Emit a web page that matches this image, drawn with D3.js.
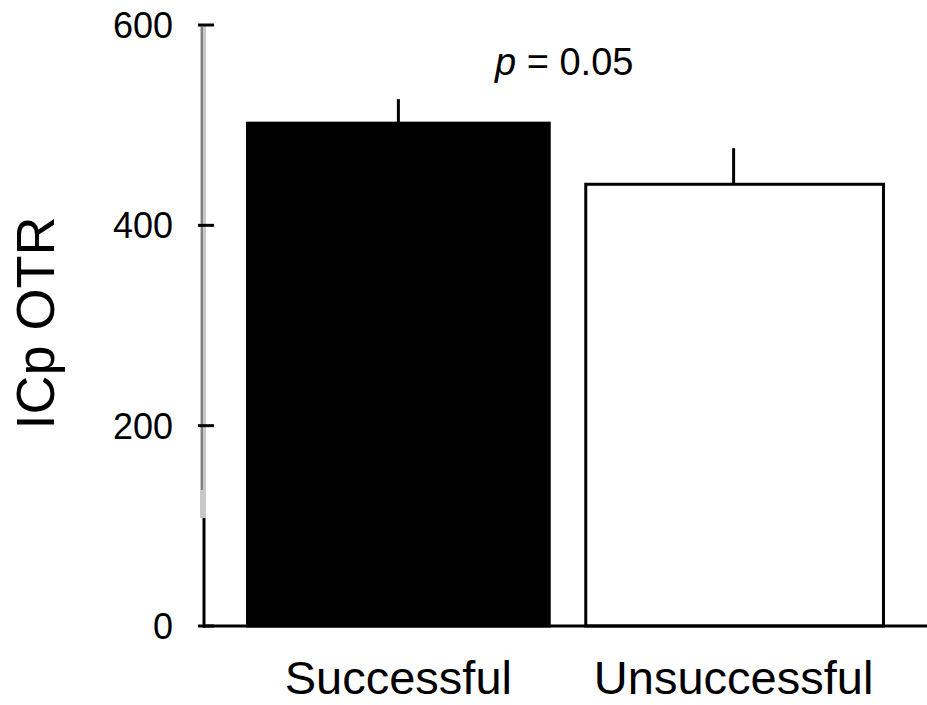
<!DOCTYPE html>
<html><head><meta charset="utf-8">
<script src="https://cdn.jsdelivr.net/npm/d3@7"></script>
<style>body{margin:0;background:#fff}svg{display:block}</style>
</head><body>
<script>
const categories = ["Successful", "Unsuccessful"];
const means = [502, 441];
const errTops = [526, 477];
const fills = ["#000000", "#ffffff"];
const yTicks = [0, 200, 400, 600];
const yLabel = "ICp OTR";
const note = "= 0.05";

const W = 927, H = 705;
const svg = d3.select("body").append("svg").attr("width", W).attr("height", H);
const font = "Liberation Sans, Arial, sans-serif";

const y = d3.scaleLinear().domain([0, 600]).range([626, 25]);
const x = d3.scaleBand().domain(categories).range([214, 918]).paddingInner(0.1).paddingOuter(0.1);

// bars
svg.selectAll("rect.bar").data(categories).join("rect")
  .attr("x", (d, i) => x(d) + (i === 1 ? 3 : 0))
  .attr("y", (d, i) => y(means[i]))
  .attr("width", (d, i) => x.bandwidth() - (i === 1 ? 4 : 0))
  .attr("height", (d, i) => y(0) - y(means[i]))
  .attr("fill", (d, i) => fills[i])
  .attr("stroke", "#000").attr("stroke-width", 3);

// error bars
svg.selectAll("line.err").data(categories).join("line")
  .attr("x1", d => x(d) + x.bandwidth() / 2)
  .attr("x2", d => x(d) + x.bandwidth() / 2)
  .attr("y1", (d, i) => y(means[i]))
  .attr("y2", (d, i) => y(errTops[i]))
  .attr("stroke", "#000").attr("stroke-width", 3);

// y axis line (gray upper part, black lower part)
svg.append("line").attr("x1", 203).attr("x2", 203).attr("y1", y(600)).attr("y2", 518)
  .attr("stroke", "#c8c8c8").attr("stroke-width", 6);
svg.append("line").attr("x1", 202).attr("x2", 202).attr("y1", y(600)+2).attr("y2", 490)
  .attr("stroke", "#808080").attr("stroke-width", 2);
svg.append("line").attr("x1", 204).attr("x2", 204).attr("y1", 518).attr("y2", y(0) + 1.5)
  .attr("stroke", "#000").attr("stroke-width", 3);

// x axis line
svg.append("line").attr("x1", 203).attr("x2", W).attr("y1", y(0)).attr("y2", y(0))
  .attr("stroke", "#000").attr("stroke-width", 3);

// ticks
svg.selectAll("line.tick").data(yTicks).join("line")
  .attr("x1", 198).attr("x2", 214)
  .attr("y1", d => y(d)).attr("y2", d => y(d))
  .attr("stroke", "#000").attr("stroke-width", 3);
svg.selectAll("text.tl").data(yTicks).join("text")
  .attr("x", 173).attr("y", d => y(d)).attr("dy", "0.36em")
  .attr("text-anchor", "end").attr("font-family", font).attr("font-size", 36)
  .text(d => d);

// category labels
svg.selectAll("text.cat").data(categories).join("text")
  .attr("x", d => x(d) + x.bandwidth() / 2).attr("y", 694)
  .attr("text-anchor", "middle").attr("font-family", font).attr("font-size", 47)
  .text(d => d);

// y label
svg.append("text").attr("transform", "translate(54,323) rotate(-90)")
  .attr("text-anchor", "middle").attr("font-family", font).attr("font-size", 54)
  .text(yLabel);

// p value
const t = svg.append("text").attr("x", 495).attr("y", 75)
  .attr("font-family", font).attr("font-size", 38);
t.append("tspan").attr("font-style", "italic").text("p");
t.append("tspan").text(" " + note);
</script>
</body></html>
